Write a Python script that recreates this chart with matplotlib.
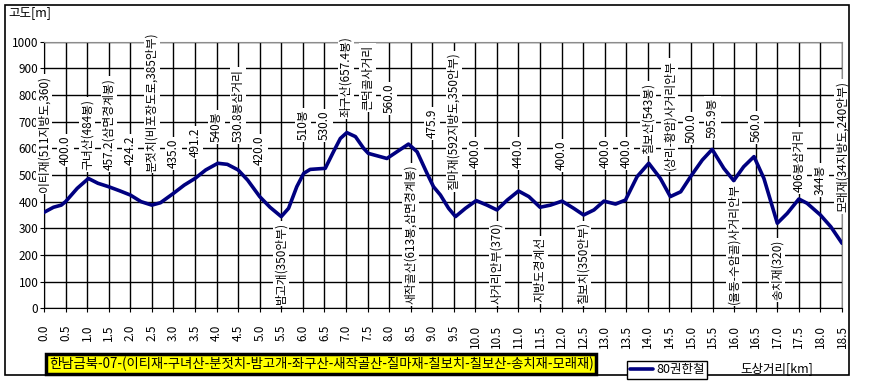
import matplotlib
matplotlib.use('Agg')
import matplotlib.pyplot as plt
from matplotlib.patches import Rectangle
from matplotlib.ticker import MultipleLocator, FormatStrFormatter

plt.rcParams['font.family'] = ['Noto Sans CJK KR', 'DejaVu Sans']

# elevation profile (km, m)
dist = [0.0, 0.22, 0.4, 0.5, 0.77, 1.03, 1.25, 1.5, 1.75, 2.0, 2.25, 2.5, 2.7,
        3.0, 3.25, 3.5, 3.75, 4.03, 4.25, 4.5, 4.72, 5.0, 5.24, 5.5, 5.67, 5.86,
        6.02, 6.17, 6.52, 6.71, 6.87, 7.02, 7.22, 7.41, 7.52, 7.95, 8.18, 8.45,
        8.65, 8.88, 9.03, 9.19, 9.38, 9.54, 9.77, 10.02, 10.27, 10.5, 10.74,
        11.0, 11.24, 11.5, 11.74, 12.01, 12.28, 12.51, 12.75, 12.98, 13.25,
        13.48, 13.75, 14.02, 14.29, 14.52, 14.76, 14.99, 15.26, 15.49, 15.76,
        15.99, 16.22, 16.46, 16.69, 17.0, 17.23, 17.5, 17.69, 18.0, 18.24, 18.5]
elev = [360, 379, 387, 400, 450, 487, 469, 456, 441, 425, 400, 387, 396,
        431, 462, 487, 519, 544, 540, 519, 481, 419, 379, 344, 375, 456,
        506, 521, 525, 587, 637, 659, 644, 600, 581, 562, 587, 616,
        587, 506, 456, 425, 375, 344, 375, 404, 387, 369, 406,
        440, 419, 379, 387, 402, 375, 350, 369, 402, 391,
        406, 494, 544, 487, 419, 437, 494, 556, 596, 525,
        479, 531, 569, 487, 319, 356, 410, 394, 350, 306, 244]

cat_km = [i * 0.5 for i in range(38)]
point_names = [
    "이티재(511지방도,360)", "400.0", "구녀산(484봉)", "457.2(삼면경계봉)", "424.2",
    "분젓치(비포장도로,385안부)", "435.0", "491.2", "540봉", "530.8봉삼거리", "420.0",
    "밤고개(350안부)", "510봉", "530.0", "좌구산(657.4봉)", "큰덕골사거리", "560.0",
    "새작골산(613봉,삼면경계봉)", "475.9", "질마재(592지방도,350안부)", "400.0",
    "사거리안부(370)", "440.0", "지방도경계선", "400.0", "칠보치(350안부)", "400.0",
    "400.0", "칠보산(543봉)", "(상리-황암)사거리안부", "500.0", "595.9봉",
    "(율동-수암골)사거리안부", "560.0", "송치재(320)", "406봉삼거리", "344봉",
    "모래재(34지방도,240안부)"]

title = "한남금북-07-(이티재-구녀산-분젓치-밤고개-좌구산-새작골산-질마재-칠보치-칠보산-송치재-모래재)"
series_name = "80권한철"

# label placement: bottom end of each vertical label (upper ones above the line,
# lower ones sit on the axis)
label_bottom = [436, 537, 519, 519, 537, 512, 525, 567, 624, 624, 537, 15, 631, 631,
                718, 744, 731, 15, 638, 443, 525, 15, 525, 22, 519, 15, 525, 525,
                578, 519, 620, 638, 15, 624, 30, 436, 425, 361]

fig = plt.figure(figsize=(8.8, 3.84), dpi=100)
ax = fig.add_axes([44 / 880, 1 - 308.3 / 384, (842 - 44) / 880, (308.3 - 41.7) / 384])

ax.set_xlim(0, 18.5)
ax.set_ylim(0, 1000)
ax.xaxis.set_major_locator(MultipleLocator(0.5))
ax.xaxis.set_major_formatter(FormatStrFormatter('%.1f'))
ax.yaxis.set_major_locator(MultipleLocator(100))
ax.grid(True, color='black', lw=1)
ax.set_axisbelow(True)
ax.xaxis.get_gridlines()[-1].set_visible(False)
ax.yaxis.get_gridlines()[-1].set_visible(False)
for s in ['top', 'right']:
    ax.spines[s].set_color('#8c8c8c')
for s in ['left', 'bottom']:
    ax.spines[s].set_color('black')
ax.tick_params(axis='x', direction='out', length=3, pad=9, labelsize=8.5, labelrotation=90)
ax.tick_params(axis='y', direction='out', length=3, pad=1, labelsize=8.5)

ax.plot(dist, elev, color='#000080', lw=2.6, solid_joinstyle='round',
        solid_capstyle='round', label=series_name, zorder=5)

for km, name, anc in zip(cat_km, point_names, label_bottom):
    ax.text(km, anc, name, rotation=90, ha='center', va='bottom',
            fontsize=8.5, zorder=4,
            bbox=dict(facecolor='white', edgecolor='none', pad=1.2))

fig.text(8 / 880, 1 - 13 / 384, "고도[m]", fontsize=9, va='center', ha='left')
fig.text(740 / 880, 1 - 369 / 384, "도상거리[km]", fontsize=9, va='center', ha='left')
fig.text(49 / 880, 1 - 364 / 384, title, fontsize=9.6, va='center', ha='left',
         bbox=dict(boxstyle='square,pad=0.2', facecolor='#ffff00',
                   edgecolor='black', linewidth=2.5))

fig.legend(loc='center', bbox_to_anchor=(667 / 880, 1 - 370 / 384), fontsize=9,
           frameon=True, fancybox=False, edgecolor='black', framealpha=1,
           handlelength=1.9, borderpad=0.2, handletextpad=0.2, borderaxespad=0)

fig.patches.append(Rectangle((5 / 880, 1 - 375 / 384), (849 - 5) / 880, (375 - 5) / 384,
                             transform=fig.transFigure, fill=False,
                             edgecolor='black', lw=1.2))

fig.savefig('out.png', dpi=100)
